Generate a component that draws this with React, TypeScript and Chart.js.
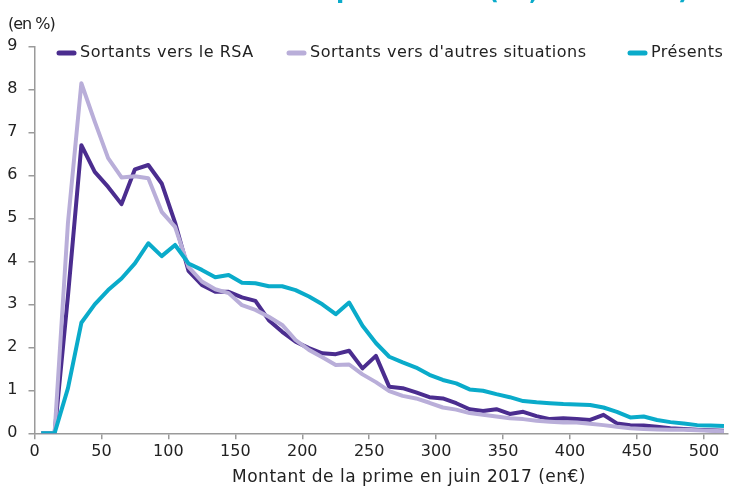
import React, { useEffect, useRef } from 'react';
import { Chart, registerables } from 'chart.js';

Chart.register(...registerables);

const xValues = [5, 15, 25, 35, 45, 55, 65, 75, 85, 95, 105, 115, 125, 135, 145, 155, 165, 175, 185, 195, 205, 215, 225, 235, 245, 255, 265, 275, 285, 295, 305, 315, 325, 335, 345, 355, 365, 375, 385, 395, 405, 415, 425, 435, 445, 455, 465, 475, 485, 495, 505, 515];

const rsaValues = [0, 0, 3.2, 6.7, 6.08, 5.73, 5.33, 6.14, 6.24, 5.81, 4.9, 3.78, 3.45, 3.29, 3.29, 3.16, 3.08, 2.63, 2.36, 2.13, 1.98, 1.86, 1.84, 1.92, 1.51, 1.8, 1.08, 1.05, 0.95, 0.84, 0.81, 0.7, 0.56, 0.52, 0.56, 0.45, 0.5, 0.4, 0.33, 0.35, 0.33, 0.31, 0.43, 0.23, 0.19, 0.18, 0.15, 0.12, 0.1, 0.08, 0.07, 0.06];

const autresValues = [0, 0, 4.9, 8.14, 7.25, 6.4, 5.95, 5.98, 5.93, 5.15, 4.8, 3.87, 3.53, 3.35, 3.26, 2.98, 2.87, 2.71, 2.52, 2.17, 1.94, 1.77, 1.59, 1.6, 1.37, 1.19, 0.98, 0.87, 0.81, 0.71, 0.6, 0.55, 0.47, 0.43, 0.39, 0.35, 0.33, 0.29, 0.27, 0.25, 0.25, 0.22, 0.19, 0.15, 0.12, 0.1, 0.09, 0.08, 0.08, 0.07, 0.06, 0.05];

const presentsValues = [0, 0, 1.05, 2.57, 3.0, 3.33, 3.6, 3.95, 4.42, 4.12, 4.38, 3.95, 3.8, 3.63, 3.68, 3.5, 3.49, 3.42, 3.42, 3.33, 3.18, 3.0, 2.77, 3.04, 2.5, 2.1, 1.78, 1.65, 1.53, 1.36, 1.24, 1.16, 1.02, 0.99, 0.91, 0.84, 0.75, 0.72, 0.7, 0.68, 0.67, 0.66, 0.6, 0.5, 0.37, 0.39, 0.31, 0.26, 0.23, 0.19, 0.18, 0.17];

const seriesLabels = ['Sortants vers le RSA', "Sortants vers d'autres situations", 'Présents'];
const seriesColors = ['#4B2D8F', '#B9AED9', '#0AABCA'];
const xTickValues = [0, 50, 100, 150, 200, 250, 300, 350, 400, 450, 500];
const yTickValues = [0, 1, 2, 3, 4, 5, 6, 7, 8, 9];
const yUnitLabel = '(en %)';
const xAxisTitle = 'Montant de la prime en juin 2017 (en€)';
// glyphs of the cropped title visible at the very top edge
const titleFragments = ['p', '(', ',', ')'];

const FONT = '"DejaVu Sans", sans-serif';
const AXIS_COLOR = '#9a9a9a';
const TEXT_COLOR = '#222222';
const legendMarkerX = [57, 287, 628];
const titleFragmentX = [336, 488, 529, 678];

const overlayPlugin = {
  id: 'overlay',
  afterDraw(chart: any) {
    const ctx = chart.ctx;
    ctx.save();
    // cropped title fragments
    ctx.fillStyle = seriesColors[2];
    ctx.font = `bold 24px ${FONT}`;
    ctx.textBaseline = 'alphabetic';
    ctx.textAlign = 'left';
    titleFragments.forEach((g, i) => {
      ctx.fillText(g, titleFragmentX[i], g === 'p' ? -2 : -1);
    });

    ctx.fillStyle = TEXT_COLOR;
    ctx.textBaseline = 'middle';
    ctx.textAlign = 'left';
    ctx.font = `16px ${FONT}`;
    (ctx as any).letterSpacing = '-1px';
    ctx.fillText(yUnitLabel, 8, 25);
    // legend
    ctx.font = `16px ${FONT}`;
    (ctx as any).letterSpacing = '0.5px';
    seriesLabels.forEach((label, i) => {
      const x = legendMarkerX[i];
      const y = 53;
      ctx.strokeStyle = seriesColors[i];
      ctx.lineWidth = 5;
      ctx.lineCap = 'round';
      ctx.beginPath();
      ctx.moveTo(x + 2, y);
      ctx.lineTo(x + 17, y);
      ctx.stroke();
      ctx.fillStyle = TEXT_COLOR;
      ctx.fillText(label, x + 23, y);
    });
    // x title
    ctx.font = `17px ${FONT}`;
    ctx.textAlign = 'center';
    ctx.fillText(xAxisTitle, 409, 478);
    (ctx as any).letterSpacing = '0px';
    ctx.restore();
  },
};

export default function App() {
  const canvasRef = useRef<HTMLCanvasElement | null>(null);

  useEffect(() => {
    if (!canvasRef.current) return;
    const makeData = (vals: number[]) => xValues.map((x, i) => ({ x, y: vals[i] }));
    const seriesValues = [rsaValues, autresValues, presentsValues];
    const chart = new Chart(canvasRef.current, {
      type: 'line',
      data: {
        datasets: seriesValues.map((vals, i) => ({
          label: seriesLabels[i],
          data: makeData(vals),
          borderColor: seriesColors[i],
          backgroundColor: seriesColors[i],
          borderWidth: 4,
          pointRadius: 0,
          tension: 0,
          fill: false,
          borderJoinStyle: 'round' as const,
          order: 2 - i,
        })),
      },
      options: {
        responsive: false,
        animation: false,
        events: [],
        layout: { padding: { left: 0, right: 2, top: 46.3, bottom: 0 } },
        plugins: { legend: { display: false }, tooltip: { enabled: false }, title: { display: false } },
        scales: {
          x: {
            type: 'linear',
            min: 0,
            max: 518,
            afterBuildTicks: (scale: any) => {
              scale.ticks = xTickValues.map((v) => ({ value: v }));
            },
            afterFit: (scale: any) => {
              scale.height = 55.7;
            },
            ticks: {
              color: TEXT_COLOR,
              font: { family: FONT, size: 16 },
              padding: 3,
              maxRotation: 0,
              autoSkip: false,
            },
            grid: { drawOnChartArea: false, drawTicks: true, tickLength: 6, color: AXIS_COLOR, lineWidth: 1.5 },
            border: { color: AXIS_COLOR, width: 1.5 },
          },
          y: {
            type: 'linear',
            min: 0,
            max: 9,
            afterBuildTicks: (scale: any) => {
              scale.ticks = yTickValues.map((v) => ({ value: v }));
            },
            afterFit: (scale: any) => {
              scale.width = 34.5;
            },
            ticks: {
              color: TEXT_COLOR,
              font: { family: FONT, size: 16 },
              padding: 11,
            },
            grid: { drawOnChartArea: false, drawTicks: true, tickLength: 6, color: AXIS_COLOR, lineWidth: 1.5 },
            border: { color: AXIS_COLOR, width: 1.5 },
          },
        },
      },
      plugins: [overlayPlugin],
    });
    return () => chart.destroy();
  }, []);

  return (
    <div style={{ position: 'fixed', left: 0, top: 0, width: 730, height: 489, background: '#ffffff' }}>
      <canvas ref={canvasRef} width={730} height={489} style={{ display: 'block' }} />
    </div>
  );
}
